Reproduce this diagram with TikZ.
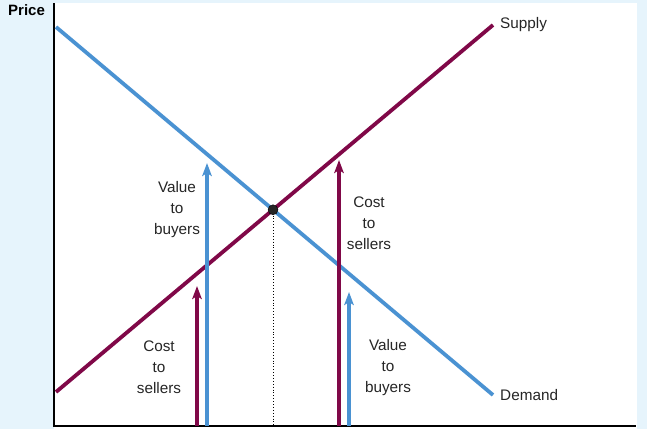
\documentclass[tikz,border=0pt]{standalone}
\usepackage{fontspec}
\setmainfont{Liberation Sans}
\usetikzlibrary{arrows.meta}
\definecolor{bgblue}{RGB}{230,244,252}
\definecolor{demblue}{RGB}{74,146,210}
\definecolor{supred}{RGB}{128,8,72}
\begin{document}
\begin{tikzpicture}[x=1pt,y=-1pt,
  curve/.style={line width=3.8pt},
  arr/.style={line width=3.6pt,-{Stealth[length=13pt,width=9.5pt,inset=3pt]}},
  lbl/.style={font=\fontsize{15.3}{21}\selectfont,align=center,text=black!85,inner sep=0pt},
  axis/.style={line width=1.2pt,black}]
\useasboundingbox (0,0) rectangle (647,429);
\fill[bgblue] (0,0) rectangle (647,429);
\fill[white] (54,3) rectangle (637,429);
\coordinate (o) at (54,426);
\coordinate (ytop) at (54,3);
\coordinate (xend) at (636,426);
\draw[axis] (ytop) -- (o) -- (xend);
\node[font=\bfseries\fontsize{15}{17}\selectfont,inner sep=0pt,anchor=west] (price) at (8,10) {Price};
% curves
\coordinate (d1) at (56,27);
\coordinate (d2) at (493,395);
\coordinate (s1) at (56,392);
\coordinate (s2) at (493,25);
\draw[curve,demblue] (d1) -- (d2);
\draw[curve,supred] (s1) -- (s2);
\coordinate (eq) at (intersection of d1--d2 and s1--s2);
\coordinate (eqb) at (eq |- o);
\draw[dotted,line width=0.9pt] (eq) -- (eqb);
\node[circle,fill=black!85,draw=black,inner sep=0pt,minimum size=10pt] (eqdot) at (eq) {};
\node[lbl,anchor=west] (supply) at (500,25) {Supply};
\node[lbl,anchor=west] (demand) at (500,395) {Demand};
% arrows
\coordinate (a1b) at (207,426); \coordinate (a1t) at (207,163);
\coordinate (a2b) at (197,426); \coordinate (a2t) at (197,286);
\coordinate (a3b) at (339,426); \coordinate (a3t) at (339,160);
\coordinate (a4b) at (349,426); \coordinate (a4t) at (349,292);
\draw[arr,demblue] (a1b) -- (a1t);
\draw[arr,supred] (a2b) -- (a2t);
\draw[arr,supred] (a3b) -- (a3t);
\draw[arr,demblue] (a4b) -- (a4t);
% labels
\node[lbl] (v1) at (177,210) {Value\\to\\buyers};
\node[lbl] (c1) at (369,223) {Cost\\to\\sellers};
\node[lbl] (c2) at (159,367) {Cost\\to\\sellers};
\node[lbl] (v2) at (388,368) {Value\\to\\buyers};
\end{tikzpicture}
\end{document}
